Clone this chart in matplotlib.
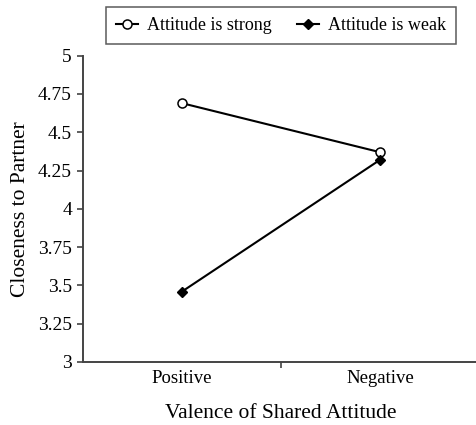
import matplotlib
matplotlib.use("Agg")
from matplotlib import pyplot as plt

# datos
categorias = ["Positive", "Negative"]
fuerte = [4.69, 4.37]
debil = [3.46, 4.32]
y_ticks = [3, 3.25, 3.5, 3.75, 4, 4.25, 4.5, 4.75, 5]
y_labels = ["3", "3.25", "3.5", "3.75", "4", "4.25", "4.5", "4.75", "5"]

plt.rcParams["font.family"] = ["Liberation Serif", "DejaVu Serif"]

fig = plt.figure(figsize=(4.77, 4.25), dpi=100)
ax = fig.add_axes([83 / 477, 1 - 362 / 425, 396 / 477, (362 - 55.7) / 425])

x = list(range(len(categorias)))
ax.plot(x, fuerte, color="black", lw=1.5, marker="o", ms=6.5,
        mfc="white", mec="black", mew=1.1, label="Attitude is strong")
ax.plot(x, debil, color="black", lw=1.5, marker="D", ms=5.5,
        mfc="black", mec="black", label="Attitude is weak")

ax.set_xlim(-0.5, 1.5)
ax.set_ylim(3, 5)
ax.set_yticks(y_ticks)
ax.set_yticklabels(y_labels)
ax.tick_params(axis="y", direction="out", length=4.5, width=1.1,
               labelsize=14, pad=3.5, color="#333333")

# etiquetas de categoria en ticks menores, tick separador en el medio
ax.set_xticks([0.5])
ax.set_xticklabels([""])
ax.set_xticks(x, minor=True)
ax.set_xticklabels(categorias, minor=True)
ax.tick_params(axis="x", which="major", direction="out", length=4.5,
               width=1.1, color="#333333")
ax.tick_params(axis="x", which="minor", length=0, labelsize=13.5, pad=6)

for s in ["top", "right"]:
    ax.spines[s].set_visible(False)
for s in ["left", "bottom"]:
    ax.spines[s].set_linewidth(1.4)
    ax.spines[s].set_color("#444444")

ax.set_xlabel("Valence of Shared Attitude", fontsize=15.5, labelpad=12)
ax.set_ylabel("Closeness to Partner", fontsize=15.5, labelpad=6)

leg = fig.legend(loc="upper center", bbox_to_anchor=(281 / 477, 1 - 7 / 425),
                 ncol=2, fontsize=13, frameon=True, fancybox=False,
                 handlelength=1.2, handletextpad=0.5, columnspacing=1.4,
                 borderpad=0.55, borderaxespad=0)
leg.get_frame().set_edgecolor("#333333")
leg.get_frame().set_linewidth(1.1)

fig.savefig("out.png", dpi=100)
